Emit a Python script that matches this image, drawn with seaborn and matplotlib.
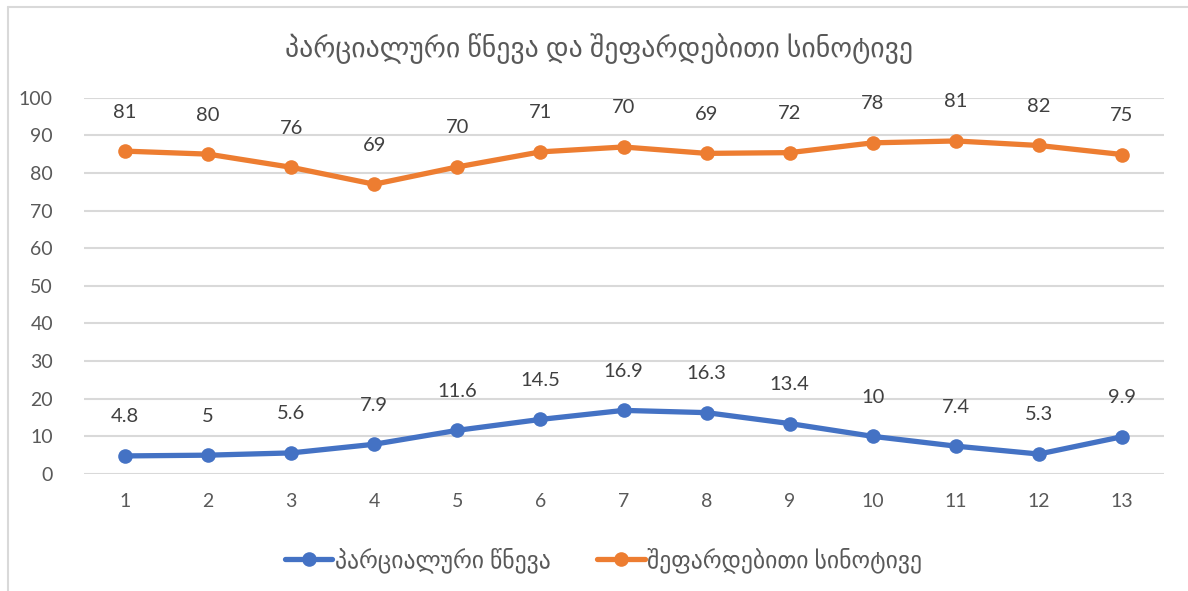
import pandas as pd
import seaborn as sns
import matplotlib.pyplot as plt
from matplotlib.lines import Line2D

# data
months = list(range(1, 13 + 1))
pressure = [4.8, 5, 5.6, 7.9, 11.6, 14.5, 16.9, 16.3, 13.4, 10, 7.4, 5.3, 9.9]
# orange points sit higher than their labels in the original chart
humidity_pos = [85.8, 85.0, 81.5, 77.0, 81.6, 85.6, 86.9, 85.2, 85.4, 88.0, 88.5, 87.3, 84.9]
humidity_lbl = [81, 80, 76, 69, 70, 71, 70, 69, 72, 78, 81, 82, 75]

title = "პარციალური წნევა და შეფარდებითი სინოტივე"
name_p = "პარციალური წნევა"
name_h = "შეფარდებითი სინოტივე"

blue = "#4472C4"
orange = "#ED7D31"
grey = "#595959"

sns.set_style("white")
plt.rcParams["font.family"] = ["Lato", "DejaVu Sans"]

df = pd.DataFrame({"x": months, "p": pressure, "h": humidity_pos})

fig = plt.figure(figsize=(11.88, 5.91), dpi=100)
ax = fig.add_axes([0.0703, 0.198, 0.9091, 0.6367])

sns.lineplot(data=df, x="x", y="p", ax=ax, color=blue, lw=3.8,
             marker="o", markersize=10.5, markeredgewidth=0)
sns.lineplot(data=df, x="x", y="h", ax=ax, color=orange, lw=3.8,
             marker="o", markersize=10.5, markeredgewidth=0)

for x, y in zip(months, pressure):
    ax.annotate(f"{y:g}", (x, y), xytext=(0, 22), textcoords="offset points",
                ha="center", va="bottom", fontsize=14.5, color="#404040")
for x, y, t in zip(months, humidity_pos, humidity_lbl):
    ax.annotate(f"{t}", (x, y), xytext=(0, 22), textcoords="offset points",
                ha="center", va="bottom", fontsize=14.5, color="#404040")

ax.set_xlim(0.5, 13.5)
ax.set_ylim(0, 100)
ax.set_xticks(months)
ax.set_yticks(range(0, 101, 10))
ax.tick_params(axis="both", length=0, labelsize=14, labelcolor=grey)
ax.tick_params(axis="x", pad=14)
ax.tick_params(axis="y", pad=22)
ax.set_xlabel("")
ax.set_ylabel("")
ax.grid(axis="y", color="#d9d9d9", lw=1.5)
ax.set_axisbelow(True)
for s in ax.spines.values():
    s.set_visible(False)

fig.text(0.504, 0.918, title, ha="center", va="center", fontsize=20, color=grey)

handles = [
    Line2D([], [], color=blue, lw=3.8, marker="o", markersize=10.5, markeredgewidth=0),
    Line2D([], [], color=orange, lw=3.8, marker="o", markersize=10.5, markeredgewidth=0),
]
fig.legend(handles, [name_p, name_h], loc="center", bbox_to_anchor=(0.508, 0.052),
           ncol=2, frameon=False, fontsize=17, labelcolor=grey,
           handlelength=2.0, handletextpad=0.1, columnspacing=2.0)

# chart border (only left and top edges show in the original crop)
fig.add_artist(Line2D([8 / 1188, 8 / 1188], [0, 1 - 6.5 / 591], color="#d9d9d9", lw=1.5))
fig.add_artist(Line2D([8 / 1188, 1], [1 - 6.5 / 591, 1 - 6.5 / 591], color="#d9d9d9", lw=1.5))

fig.savefig("out.png", dpi=100)
